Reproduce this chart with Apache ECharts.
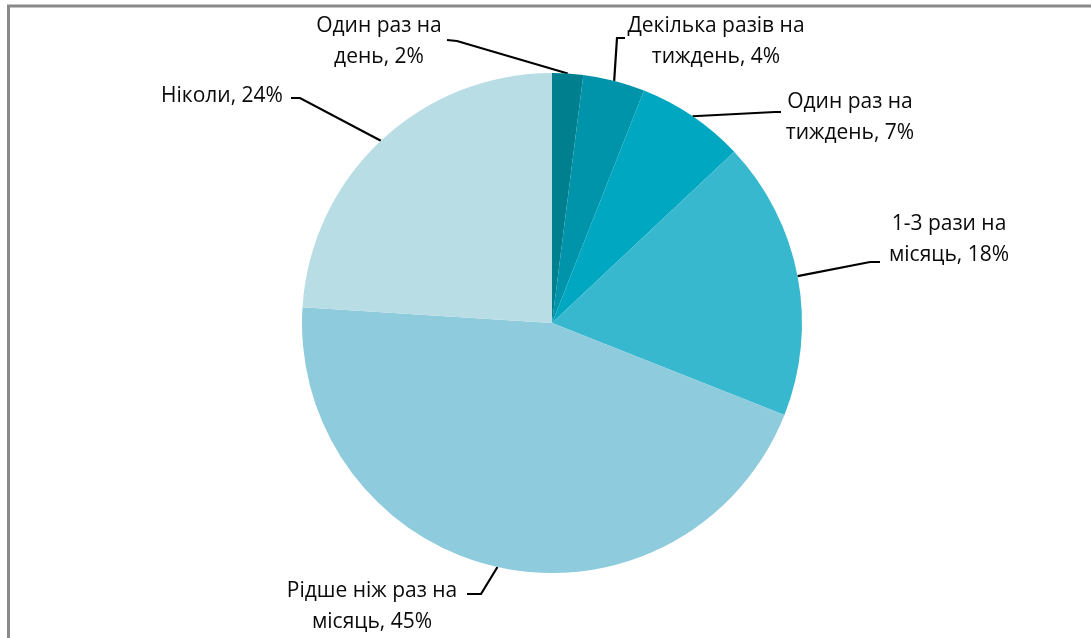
<!DOCTYPE html>
<html>
<head>
<meta charset="utf-8">
<script src="https://cdn.jsdelivr.net/npm/echarts@6/dist/echarts.min.js"></script>
<style>
  html, body { margin: 0; padding: 0; background: #fff; }
  #main { width: 1091px; height: 638px; }
</style>
</head>
<body>
<div id="main"></div>
<script>
  // categories and shares, clockwise from 12 o'clock
  var categories = ['Один раз на\nдень', 'Декілька разів на\nтиждень', 'Один раз на\nтиждень',
                    '1-3 рази на\nмісяць', 'Рідше ніж раз на\nмісяць', 'Ніколи'];
  var shares = [2, 4, 7, 18, 45, 24];
  var colors = ['#00808f', '#0094aa', '#00a7c0', '#38b8cf', '#8ecbdc', '#b8dde5'];

  // where each label sits (centre of text block) and the bend of its leader line
  var labelPos = [[379, 42], [716, 42], [850, 118], [949, 240], [372, 607], [222, 96]];
  var leaderBend = [[[457, 41], [447, 40]], [[617, 38], [625, 38]], [[775, 112], [781, 112]],
                    [[870, 262], [880, 262]], [[481, 594], [467, 594]], [[300, 98], [291, 98]]];

  var myChart = echarts.init(document.getElementById('main'));

  var option = {
    animation: false,
    color: colors,
    graphic: [{
      type: 'rect',
      shape: { x: 8.5, y: 6, width: 1200, height: 800 },
      style: { fill: 'none', stroke: '#8a8a8a', lineWidth: 3 }
    }],
    series: [{
      type: 'pie',
      center: [552, 323],
      radius: 250,
      startAngle: 90,
      clockwise: true,
      data: categories.map(function (c, i) { return { name: c, value: shares[i] }; }),
      itemStyle: { borderWidth: 0 },
      label: {
        show: true,
        position: 'outside',
        formatter: '{b}, {c}%',
        fontFamily: 'Open Sans',
        fontSize: 21,
        lineHeight: 31,
        color: '#0a0a0a',
        align: 'center'
      },
      labelLine: {
        show: true,
        lineStyle: { color: '#000', width: 2.2 }
      },
      labelLayout: function (params) {
        var i = params.dataIndex;
        var p0 = params.labelLinePoints ? params.labelLinePoints[0] : null;
        var out = {
          x: labelPos[i][0],
          y: labelPos[i][1],
          align: 'center',
          verticalAlign: 'middle'
        };
        if (p0) {
          out.labelLinePoints = [p0, leaderBend[i][0], leaderBend[i][1]];
        }
        return out;
      }
    }]
  };
  myChart.setOption(option);
  window.addEventListener('resize', function () {
    myChart.resize();
  });
</script>
</body>
</html>
